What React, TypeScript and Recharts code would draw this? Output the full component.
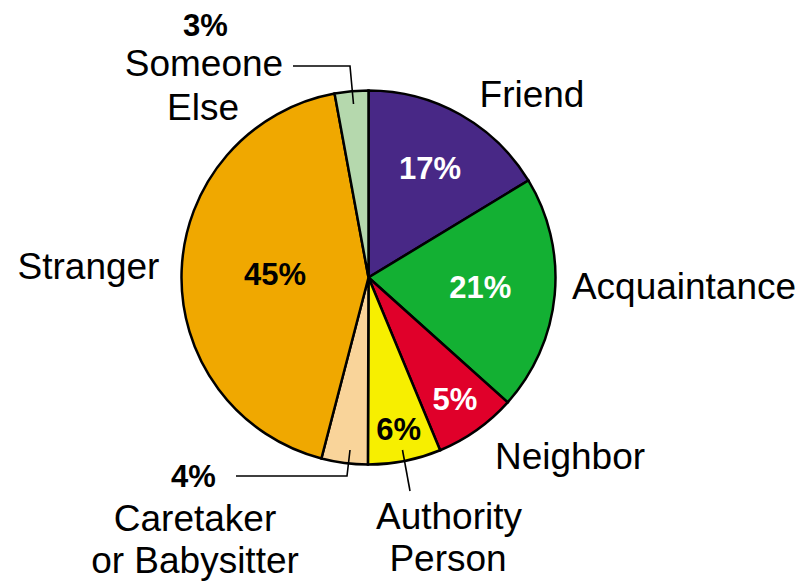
import { PieChart, Pie, Cell } from "recharts";

// slices, clockwise from 12 o'clock
const categories = [
  "Friend",
  "Acquaintance",
  "Neighbor",
  "Authority\nPerson",
  "Caretaker\nor Babysitter",
  "Stranger",
  "Someone\nElse",
];
// shares
const shares = [16.3, 20.3, 7.1, 6.3, 4.0, 43.0, 2.9];
// printed percentages
const percentLabels = ["17%", "21%", "5%", "6%", "4%", "45%", "3%"];

const colors = ["#482886", "#13b033", "#e0002a", "#f7ef00", "#f9d49a", "#f0a800", "#b5d8ad"];
const pctColors = ["#fff", "#fff", "#fff", "#000", "#000", "#000", "#000"];

const data = categories.map((name, i) => ({ name, value: shares[i] }));

const RAD = Math.PI / 180;
const FONT = "'Liberation Sans', Arial, sans-serif";

// radius factor for the percent inside the slice (null = shown outside)
const insideR: (number | null)[] = [0.67, 0.6, 0.8, 0.83, null, 0.5, null];

// outside text, offsets from pie centre; pct=true means the percent line
const outside: { lines: { dx: number; dy: number; pct?: boolean }[]; leader?: number[][] }[] = [
  { lines: [{ dx: 163.5, dy: -170.5 }] },
  { lines: [{ dx: 315.5, dy: 21.5 }] },
  { lines: [{ dx: 201.5, dy: 191.5 }] },
  {
    lines: [{ dx: 80.5, dy: 251.5 }, { dx: 79.5, dy: 293 }],
    leader: [[34, 172.5], [41.5, 213.5]],
  },
  {
    lines: [{ dx: -175, dy: 209.5, pct: true }, { dx: -173.5, dy: 253.5 }, { dx: -173.5, dy: 295 }],
    leader: [[-18.5, 172.5], [-21.5, 198.5], [-132.5, 198.5]],
  },
  { lines: [{ dx: -280, dy: 1.5 }] },
  {
    lines: [{ dx: -163, dy: -241.5, pct: true }, { dx: -164.5, dy: -201.5 }, { dx: -165.5, dy: -158 }],
    leader: [[-15, -173.5], [-18.5, -211.5], [-75.5, -211.5]],
  },
];

function renderLabel(props: any) {
  const { cx, cy, midAngle, outerRadius, index } = props;
  const parts: any[] = [];
  const f = insideR[index];
  if (f != null) {
    const r = outerRadius * f;
    parts.push(
      <text
        key="in"
        x={cx + r * Math.cos(-midAngle * RAD)}
        y={cy + r * Math.sin(-midAngle * RAD)}
        fill={pctColors[index]}
        textAnchor="middle"
        dominantBaseline="central"
        fontFamily={FONT}
        fontWeight="bold"
        fontSize={31}
      >
        {percentLabels[index]}
      </text>
    );
  }
  const cfg = outside[index];
  const nameLines = categories[index].split("\n");
  let k = 0;
  cfg.lines.forEach((ln, j) => {
    const txt = ln.pct ? percentLabels[index] : nameLines[k++];
    parts.push(
      <text
        key={"o" + j}
        x={cx + ln.dx}
        y={cy + ln.dy}
        fill="#000"
        textAnchor="middle"
        fontFamily={FONT}
        fontWeight={ln.pct ? "bold" : "normal"}
        fontSize={ln.pct ? 31 : 37}
      >
        {txt}
      </text>
    );
  });
  if (cfg.leader) {
    parts.push(
      <polyline
        key="ld"
        points={cfg.leader.map((p) => `${cx + p[0]},${cy + p[1]}`).join(" ")}
        fill="none"
        stroke="#000"
        strokeWidth={1.6}
      />
    );
  }
  return <g>{parts}</g>;
}

export default function App() {
  return (
    <div style={{ position: "absolute", left: 0, top: 0, background: "#fff" }}>
      <PieChart width={797} height={583} margin={{ top: 0, right: 0, bottom: 0, left: 0 }}>
        <Pie
          data={data}
          dataKey="value"
          nameKey="name"
          cx={368.5}
          cy={277.5}
          outerRadius={187}
          startAngle={90}
          endAngle={-270}
          stroke="#000"
          strokeWidth={2.5}
          label={renderLabel}
          labelLine={false}
          isAnimationActive={false}
        >
          {data.map((d, i) => (
            <Cell key={d.name} fill={colors[i]} />
          ))}
        </Pie>
      </PieChart>
    </div>
  );
}
